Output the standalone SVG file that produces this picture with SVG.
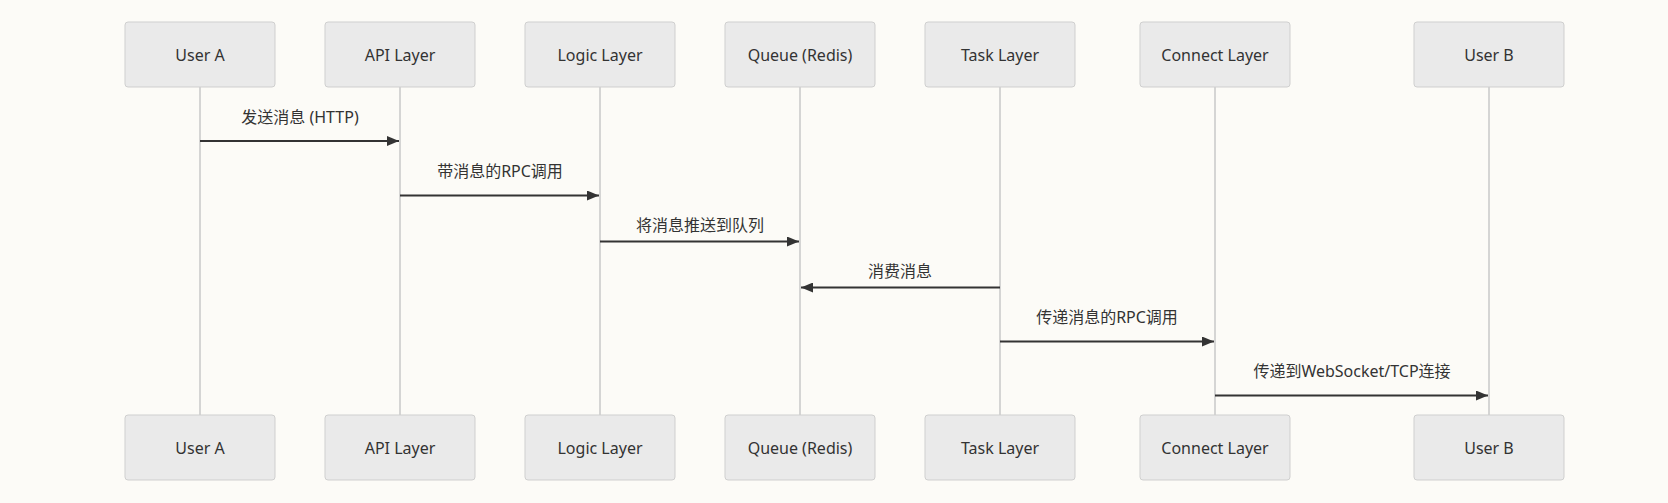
<svg xmlns="http://www.w3.org/2000/svg" width="1668" height="503" viewBox="0 0 1668 503">
<style>
.bg{fill:#fcfbf7}
.actor{fill:#eaeaea;stroke:#cfcfcf;stroke-width:1}
.life{stroke:#c8c8c8;stroke-width:1.5}
.msg{stroke:#333;stroke-width:2;fill:none}
text{font-family:"Noto Sans","Noto Sans CJK SC",sans-serif;font-size:16px;fill:#333;text-anchor:middle;dominant-baseline:central}
</style>
<defs>
<marker id="ah" viewBox="0 0 12 10" refX="12" refY="5" markerWidth="12" markerHeight="10" markerUnits="userSpaceOnUse" orient="auto">
<path d="M0,0 L12,5 L0,10 Z" fill="#333"/>
</marker>
</defs>
<rect class="bg" x="0" y="0" width="1668" height="503"/>
<g id="lifelines">
<line class="life" x1="200" y1="87" x2="200" y2="415"/>
<line class="life" x1="400" y1="87" x2="400" y2="415"/>
<line class="life" x1="600" y1="87" x2="600" y2="415"/>
<line class="life" x1="800" y1="87" x2="800" y2="415"/>
<line class="life" x1="1000" y1="87" x2="1000" y2="415"/>
<line class="life" x1="1215" y1="87" x2="1215" y2="415"/>
<line class="life" x1="1489" y1="87" x2="1489" y2="415"/>
</g>
<g id="userA">
<rect class="actor" x="125" y="22" width="150" height="65" rx="3"/><text x="200" y="55">User A</text>
<rect class="actor" x="125" y="415" width="150" height="65" rx="3"/><text x="200" y="448">User A</text>
</g>
<g id="api">
<rect class="actor" x="325" y="22" width="150" height="65" rx="3"/><text x="400" y="55">API Layer</text>
<rect class="actor" x="325" y="415" width="150" height="65" rx="3"/><text x="400" y="448">API Layer</text>
</g>
<g id="logic">
<rect class="actor" x="525" y="22" width="150" height="65" rx="3"/><text x="600" y="55">Logic Layer</text>
<rect class="actor" x="525" y="415" width="150" height="65" rx="3"/><text x="600" y="448">Logic Layer</text>
</g>
<g id="queue">
<rect class="actor" x="725" y="22" width="150" height="65" rx="3"/><text x="800" y="55">Queue (Redis)</text>
<rect class="actor" x="725" y="415" width="150" height="65" rx="3"/><text x="800" y="448">Queue (Redis)</text>
</g>
<g id="task">
<rect class="actor" x="925" y="22" width="150" height="65" rx="3"/><text x="1000" y="55">Task Layer</text>
<rect class="actor" x="925" y="415" width="150" height="65" rx="3"/><text x="1000" y="448">Task Layer</text>
</g>
<g id="connect">
<rect class="actor" x="1140" y="22" width="150" height="65" rx="3"/><text x="1215" y="55">Connect Layer</text>
<rect class="actor" x="1140" y="415" width="150" height="65" rx="3"/><text x="1215" y="448">Connect Layer</text>
</g>
<g id="userB">
<rect class="actor" x="1414" y="22" width="150" height="65" rx="3"/><text x="1489" y="55">User B</text>
<rect class="actor" x="1414" y="415" width="150" height="65" rx="3"/><text x="1489" y="448">User B</text>
</g>
<g id="messages">
<line class="msg" x1="200" y1="141" x2="399" y2="141" marker-end="url(#ah)"/>
<text x="300" y="117">发送消息 (HTTP)</text>
<line class="msg" x1="400" y1="195.5" x2="599" y2="195.5" marker-end="url(#ah)"/>
<text x="500" y="171">带消息的RPC调用</text>
<line class="msg" x1="600" y1="241.5" x2="799" y2="241.5" marker-end="url(#ah)"/>
<text x="700" y="225">将消息推送到队列</text>
<line class="msg" x1="1000" y1="287.5" x2="801" y2="287.5" marker-end="url(#ah)"/>
<text x="900" y="271">消费消息</text>
<line class="msg" x1="1000" y1="341.5" x2="1214" y2="341.5" marker-end="url(#ah)"/>
<text x="1107" y="317">传递消息的RPC调用</text>
<line class="msg" x1="1215" y1="395.5" x2="1488" y2="395.5" marker-end="url(#ah)"/>
<text x="1352" y="371">传递到WebSocket/TCP连接</text>
</g>
</svg>
